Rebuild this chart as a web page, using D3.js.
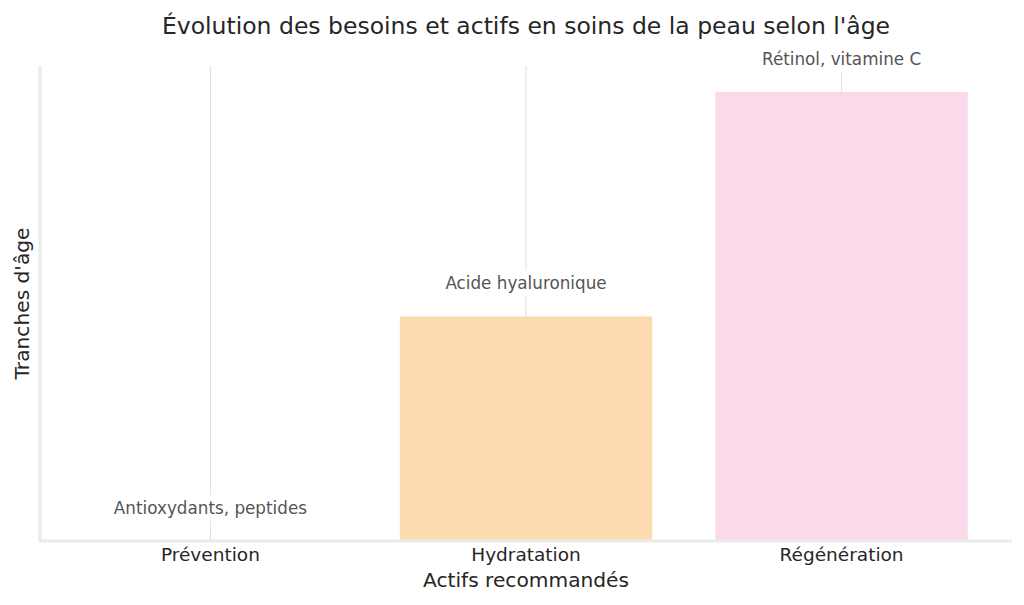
<!DOCTYPE html>
<html>
<head>
<meta charset="utf-8">
<script src="https://cdn.jsdelivr.net/npm/d3@7"></script>
<style>
  body { margin: 0; background: #fff; }
  svg text { font-family: "DejaVu Sans", sans-serif; }
</style>
</head>
<body>
<div id="chart"></div>
<script>
// --- Data ---
const stages = ["Prévention", "Hydratation", "Régénération"];
const levels = [0, 1, 2];
const actives = ["Antioxydants, peptides", "Acide hyaluronique", "Rétinol, vitamine C"];
const barColors = ["#cfe3f5", "#fddbb0", "#fbd9eb"];

const width = 1024;
const height = 605;
const margin = { top: 66, right: 12, bottom: 64, left: 40 };

const svg = d3.select("#chart")
  .append("svg")
  .attr("width", width)
  .attr("height", height);

const x = d3.scaleBand()
  .domain(stages)
  .range([margin.left, width - margin.right])
  .paddingInner(0.2)
  .paddingOuter(0.14);

const y = d3.scaleLinear()
  .domain([0, 2.115])
  .range([height - margin.bottom, margin.top]);

// vertical grid lines at category centres
svg.append("g")
  .attr("class", "grid")
  .attr("transform", `translate(0, ${height - margin.bottom})`)
  .call(d3.axisBottom(x).tickSize(-(height - margin.top - margin.bottom)).tickFormat(""))
  .call(g => g.select(".domain").remove())
  .call(g => g.selectAll("line").attr("stroke", "#dedede").attr("stroke-width", 1));

// bars
svg.append("g")
  .selectAll("rect")
  .data(stages)
  .join("rect")
    .attr("x", d => x(d))
    .attr("width", x.bandwidth())
    .attr("y", (d, i) => y(levels[i]))
    .attr("height", (d, i) => y(0) - y(levels[i]))
    .attr("fill", (d, i) => barColors[i]);

// spines
svg.append("line")
  .attr("x1", margin.left).attr("x2", margin.left)
  .attr("y1", margin.top).attr("y2", height - margin.bottom)
  .attr("stroke", "#ebebeb").attr("stroke-width", 3);
svg.append("line")
  .attr("x1", margin.left - 1.5).attr("x2", width - margin.right)
  .attr("y1", height - margin.bottom).attr("y2", height - margin.bottom)
  .attr("stroke", "#ebebeb").attr("stroke-width", 3);

// x axis tick labels
const xAxis = svg.append("g")
  .attr("transform", `translate(0, ${height - margin.bottom})`)
  .call(d3.axisBottom(x).tickSize(0).tickPadding(7));
xAxis.select(".domain").remove();
xAxis.selectAll("text")
  .attr("font-size", 18.5)
  .attr("fill", "#262626")
  .style("font-family", "DejaVu Sans, sans-serif");

// annotations with white boxes
const notes = svg.append("g");
stages.forEach((s, i) => {
  const cx = x(s) + x.bandwidth() / 2;
  const cy = y(levels[i]) - 33;
  const t = notes.append("text")
    .attr("x", cx)
    .attr("y", cy)
    .attr("text-anchor", "middle")
    .attr("dominant-baseline", "central")
    .attr("font-size", 16.8)
    .attr("fill", "#555")
    .text(actives[i]);
  const bb = t.node().getBBox();
  notes.insert("rect", "text")
    .attr("x", bb.x - 4)
    .attr("y", bb.y - 3)
    .attr("width", bb.width + 8)
    .attr("height", bb.height + 6)
    .attr("fill", "#fff");
});

// title and axis labels
svg.append("text")
  .attr("x", width / 2 + 14)
  .attr("y", 26)
  .attr("text-anchor", "middle")
  .attr("dominant-baseline", "central")
  .attr("font-size", 23.5)
  .attr("fill", "#262626")
  .text("Évolution des besoins et actifs en soins de la peau selon l'âge");

svg.append("text")
  .attr("x", (margin.left + width - margin.right) / 2)
  .attr("y", 580)
  .attr("text-anchor", "middle")
  .attr("dominant-baseline", "central")
  .attr("font-size", 20.2)
  .attr("fill", "#262626")
  .text("Actifs recommandés");

svg.append("text")
  .attr("transform", `translate(22, ${(margin.top + height - margin.bottom) / 2}) rotate(-90)`)
  .attr("text-anchor", "middle")
  .attr("dominant-baseline", "central")
  .attr("font-size", 20.2)
  .attr("fill", "#262626")
  .text("Tranches d'âge");
</script>
</body>
</html>
